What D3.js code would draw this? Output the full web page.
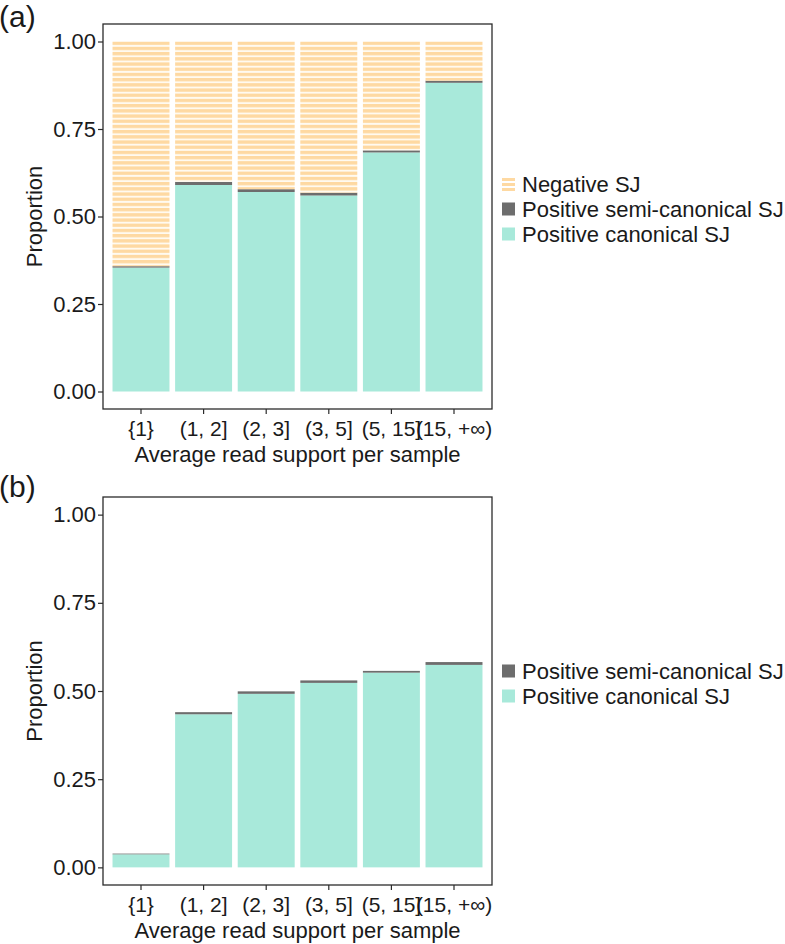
<!DOCTYPE html>
<html>
<head>
<meta charset="utf-8">
<script src="https://cdn.jsdelivr.net/npm/d3@7/dist/d3.min.js"></script>
<style>
  html, body { margin: 0; padding: 0; background: #fff; }
  svg { display: block; font-family: "Liberation Sans", Arial, Helvetica, sans-serif; }
</style>
</head>
<body>
<svg id="chart" width="785" height="944"></svg>
<script>
// ---------- data ----------
const categories = ["{1}", "(1, 2]", "(2, 3]", "(3, 5]", "(5, 15]", "(15, +∞)"];
const yTicks = [0, 0.25, 0.5, 0.75, 1.0];

// panel (a)
const canonicalA = [0.354, 0.590, 0.570, 0.560, 0.683, 0.882];
const semiA      = [0.004, 0.009, 0.008, 0.008, 0.006, 0.006];
const negativeA  = [0.642, 0.401, 0.422, 0.432, 0.311, 0.112];

// panel (b)
const canonicalB = [0.037, 0.434, 0.492, 0.523, 0.552, 0.574];
const semiB      = [0.002, 0.006, 0.007, 0.007, 0.005, 0.008];

const seriesNames = {
  canonical: "Positive canonical SJ",
  semi: "Positive semi-canonical SJ",
  negative: "Negative SJ"
};

// ---------- styles ----------
const COL_CANON = "#a8e9da";
const COL_SEMI = "#6d6d6d";
const COL_NEG = "#fed9a2";
const TXT = "#1a1a1a";
const FONT = 22;

const svg = d3.select("#chart");

// stripe pattern for Negative SJ
const defs = svg.append("defs");
const pat = defs.append("pattern")
  .attr("id", "stripes")
  .attr("patternUnits", "userSpaceOnUse")
  .attr("width", 10).attr("height", 5.2);
pat.append("rect").attr("width", 10).attr("height", 5.2).attr("fill", "#fffaf0");
pat.append("rect").attr("width", 10).attr("height", 3.3).attr("fill", COL_NEG);

function drawPanel(cfg) {
  const { top, bottom, left, right, label, rows, keys, legendY } = cfg;
  const g = svg.append("g");

  const x = d3.scaleBand().domain(categories).range([left, right])
    .paddingInner(0.09).paddingOuter(0.152);
  const y = d3.scaleLinear().domain([-0.05, 1.05]).range([bottom, top]);

  const stack = d3.stack().keys(keys);
  const stacked = stack(rows);
  const fills = { canonical: COL_CANON, semi: COL_SEMI, negative: "url(#stripes)" };

  stacked.forEach(layer => {
    g.append("g").selectAll("rect").data(layer).join("rect")
      .attr("x", (d, i) => x(categories[i]))
      .attr("width", x.bandwidth())
      .attr("y", d => y(d[1]))
      .attr("height", d => Math.max(0, y(d[0]) - y(d[1])))
      .attr("fill", fills[layer.key]);
  });

  // frame
  g.append("rect")
    .attr("x", left).attr("y", top)
    .attr("width", right - left).attr("height", bottom - top)
    .attr("fill", "none").attr("stroke", "#2b2b2b").attr("stroke-width", 1.3);

  // y axis
  const yAxis = d3.axisLeft(y).tickValues(yTicks).tickFormat(d3.format(".2f"))
    .tickSize(5).tickPadding(2);
  const ya = g.append("g").attr("transform", `translate(${left},0)`).call(yAxis);
  ya.select(".domain").remove();
  ya.selectAll("line").attr("stroke", "#2b2b2b").attr("stroke-width", 1.2);
  ya.selectAll("text").attr("font-size", FONT).attr("fill", TXT)
    .attr("font-family", '"Liberation Sans", Arial, sans-serif');

  // x axis
  const xAxis = d3.axisBottom(x).tickSize(5).tickPadding(7);
  const xa = g.append("g").attr("transform", `translate(0,${bottom})`).call(xAxis);
  xa.select(".domain").remove();
  xa.selectAll("line").attr("stroke", "#2b2b2b").attr("stroke-width", 1.2);
  xa.selectAll("text").attr("font-size", 21).attr("fill", TXT)
    .attr("font-family", '"Liberation Sans", Arial, sans-serif');

  // axis titles
  g.append("text")
    .attr("x", (left + right) / 2).attr("y", bottom + 53)
    .attr("text-anchor", "middle").attr("font-size", FONT).attr("fill", TXT)
    .text("Average read support per sample");
  g.append("text")
    .attr("transform", `translate(42,${(top + bottom) / 2}) rotate(-90)`)
    .attr("text-anchor", "middle").attr("font-size", FONT).attr("fill", TXT)
    .text("Proportion");

  // panel label
  g.append("text")
    .attr("x", -1).attr("y", cfg.labelY)
    .attr("font-size", 30).attr("fill", TXT)
    .text(label);

  // legend (reverse stack order)
  const legendKeys = keys.slice().reverse();
  const lg = g.append("g");
  const rowH = 25;
  const y0 = legendY - (legendKeys.length - 1) * rowH / 2;
  legendKeys.forEach((k, i) => {
    const cy = y0 + i * rowH;
    const kx = 502, ks = 13;
    if (k === "negative") {
      [0, 1, 2].forEach(j => {
        lg.append("rect").attr("x", kx).attr("y", cy - ks / 2 + j * 5 + 0.5)
          .attr("width", ks).attr("height", 3).attr("fill", COL_NEG);
      });
    } else {
      lg.append("rect").attr("x", kx).attr("y", cy - ks / 2)
        .attr("width", ks).attr("height", ks).attr("fill", fills[k]);
    }
    lg.append("text").attr("x", 522).attr("y", cy)
      .attr("dy", "0.36em").attr("font-size", FONT).attr("fill", TXT)
      .text(seriesNames[k]);
  });
}

const rowsA = categories.map((c, i) => ({ cat: c, canonical: canonicalA[i], semi: semiA[i], negative: negativeA[i] }));
const rowsB = categories.map((c, i) => ({ cat: c, canonical: canonicalB[i], semi: semiB[i] }));

drawPanel({ top: 24, bottom: 409, left: 103, right: 492, label: "(a)", labelY: 27,
  rows: rowsA, keys: ["canonical", "semi", "negative"], legendY: 209 });
drawPanel({ top: 497, bottom: 885, left: 103, right: 492, label: "(b)", labelY: 497,
  rows: rowsB, keys: ["canonical", "semi"], legendY: 683.5 });
</script>
</body>
</html>
